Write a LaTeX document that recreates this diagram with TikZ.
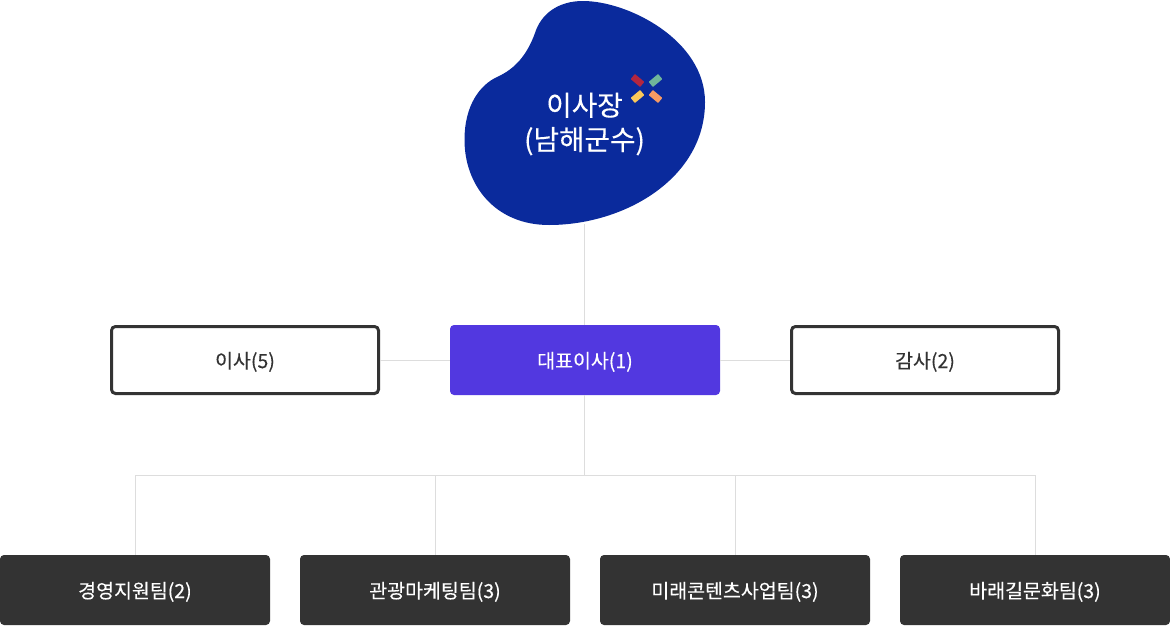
\documentclass[tikz,border=0pt]{standalone}
\usepackage{fontspec}
\setmainfont[FakeBold=0.25]{Noto Sans CJK KR}
\newfontfamily\medfont[FakeBold=0.25]{Noto Sans CJK KR}
\definecolor{blobblue}{HTML}{0A2A9C}
\definecolor{ceoviolet}{HTML}{5238E0}
\definecolor{darkbox}{HTML}{333333}
\definecolor{linegray}{HTML}{DDDDDD}
\definecolor{xred}{HTML}{B3263F}
\definecolor{xgreen}{HTML}{6FB59A}
\definecolor{xyellow}{HTML}{FBC95A}
\definecolor{xorange}{HTML}{F79A63}
\tikzset{
  x=0.75pt,y=-0.75pt,
  conn/.style={draw=linegray,line width=0.75pt},
  boxlabel/.style={font=\medfont\fontsize{14.6pt}{17pt}\selectfont,inner sep=0pt,text depth=0pt},
  outlinebox/.style={boxlabel,draw=darkbox,line width=2.25pt,fill=white,rounded corners=3pt,minimum width=200.25pt,minimum height=50.25pt,text=darkbox},
  ceobox/.style={boxlabel,fill=ceoviolet,rounded corners=3pt,minimum width=202.5pt,minimum height=52.5pt,text=white},
  teambox/.style={boxlabel,fill=darkbox,rounded corners=3pt,minimum width=202.5pt,minimum height=52.5pt,text=white},
  xbar/.style={minimum width=9.25pt,minimum height=5pt,inner sep=0pt,rounded corners=0.5pt},
}
\begin{document}
\begin{tikzpicture}
\useasboundingbox (0,0) rectangle (1170,625);
% blob
\fill[blobblue] (583,1)
  .. controls (628,1) and (705,40) .. (705,102)
  .. controls (705,178) and (625,225) .. (549,225)
  .. controls (495,225) and (464.5,185) .. (464.5,140)
  .. controls (464.5,105) and (480,85) .. (497,77)
  .. controls (515,69) and (527,55) .. (535,33)
  .. controls (541,14) and (558,1) .. (583,1) -- cycle;
\coordinate (blobbottom) at (584.5,224);
\node[text=white,align=center,inner sep=0pt,font=\fontsize{20.8pt}{25.75pt}\selectfont] (chair) at (584.5,124) {이사장\\(남해군수)};
\node[xbar,fill=xred,rotate=-40] (xa) at (637.5,80.5) {};
\node[xbar,fill=xgreen,rotate=40] (xb) at (655.5,80.5) {};
\node[xbar,fill=xyellow,rotate=40] (xc) at (637.5,96.5) {};
\node[xbar,fill=xorange,rotate=-40] (xd) at (655.5,96.5) {};
% boxes
\node[ceobox] (ceo) at (585,360) {대표이사(1)};
\node[outlinebox] (board) at (245,360) {이사(5)};
\node[outlinebox] (audit) at (925,360) {감사(2)};
\node[teambox] (t1) at (135,590) {경영지원팀(2)};
\node[teambox] (t2) at (435,590) {관광마케팅팀(3)};
\node[teambox] (t3) at (735,590) {미래콘텐츠사업팀(3)};
\node[teambox] (t4) at (1035,590) {바래길문화팀(3)};
\coordinate (hub) at (584.5,475.5);
% connectors
\draw[conn] (blobbottom) -- (blobbottom |- ceo.north);
\draw[conn] (board.east) -- (ceo.west);
\draw[conn] (ceo.east) -- (audit.west);
\draw[conn] (hub |- ceo.south) -- (hub);
\draw[conn] (hub) -| (t1.north);
\draw[conn] (hub) -| (t2.north);
\draw[conn] (hub) -| (t3.north);
\draw[conn] (hub) -| (t4.north);
\end{tikzpicture}
\end{document}
